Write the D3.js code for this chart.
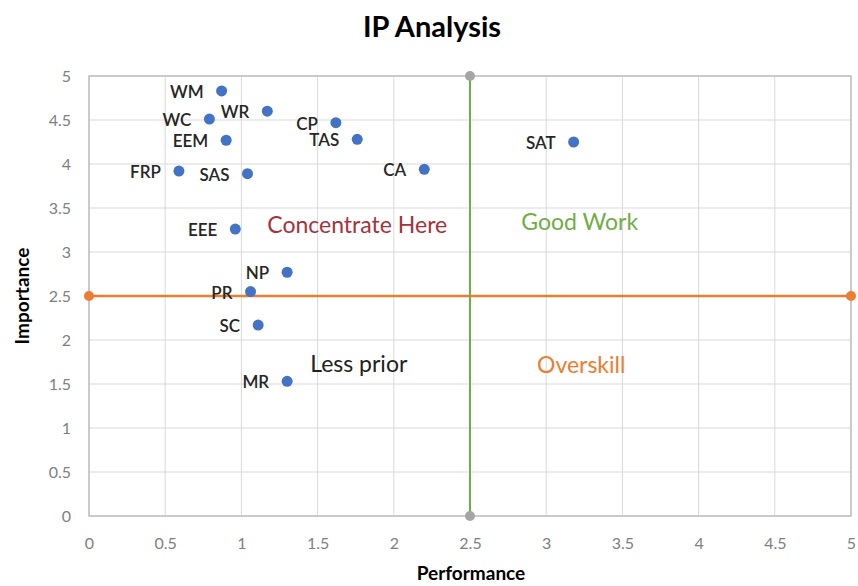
<!DOCTYPE html>
<html>
<head>
<meta charset="utf-8">
<script src="https://cdn.jsdelivr.net/npm/d3@7"></script>
<style>
  body { margin: 0; background: #fff; }
  text { font-family: Lato, "Open Sans", sans-serif; }
</style>
</head>
<body>
<div id="chart"></div>
<script>
// IP analysis data (performance vs importance)
const names = ["WM", "WR", "WC", "CP", "TAS", "EEM", "SAT", "CA", "FRP", "SAS", "EEE", "NP", "PR", "SC", "MR"];
const performance = [0.87, 1.17, 0.79, 1.62, 1.76, 0.90, 3.18, 2.20, 0.59, 1.04, 0.96, 1.30, 1.06, 1.11, 1.30];
const importance = [4.83, 4.60, 4.51, 4.47, 4.28, 4.27, 4.25, 3.94, 3.92, 3.89, 3.26, 2.77, 2.55, 2.17, 1.53];

const xTicks = [0, 0.5, 1, 1.5, 2, 2.5, 3, 3.5, 4, 4.5, 5];
const yTicks = [0, 0.5, 1, 1.5, 2, 2.5, 3, 3.5, 4, 4.5, 5];

const quadrants = [
  {label: "Concentrate Here", x: 1.76, y: 3.22, color: "#a8323c"},
  {label: "Good Work", x: 3.22, y: 3.25, color: "#70ad47"},
  {label: "Less prior", x: 1.77, y: 1.64, color: "#222"},
  {label: "Overskill", x: 3.23, y: 1.63, color: "#ed7d31"}
];

const width = 858, height = 586;
const margin = {top: 76, right: 7, bottom: 70, left: 89};

const svg = d3.select("#chart").append("svg")
    .attr("width", width)
    .attr("height", height);

const x = d3.scaleLinear().domain([0, 5]).range([margin.left, width - margin.right]);
const y = d3.scaleLinear().domain([0, 5]).range([height - margin.bottom, margin.top]);

// gridlines
svg.append("g")
    .selectAll("line")
    .data(xTicks)
    .enter().append("line")
    .attr("x1", d => x(d)).attr("x2", d => x(d))
    .attr("y1", y(0)).attr("y2", y(5))
    .attr("stroke", "#d9d9d9").attr("stroke-width", 1);
svg.append("g")
    .selectAll("line")
    .data(yTicks)
    .enter().append("line")
    .attr("x1", x(0)).attr("x2", x(5))
    .attr("y1", d => y(d)).attr("y2", d => y(d))
    .attr("stroke", "#d9d9d9").attr("stroke-width", 1);

// plot border
svg.append("rect")
    .attr("x", x(0)).attr("y", y(5))
    .attr("width", x(5) - x(0)).attr("height", y(0) - y(5))
    .attr("fill", "none").attr("stroke", "#bfbfbf").attr("stroke-width", 1.5);

// axes (labels only)
const xAxis = svg.append("g")
    .attr("transform", `translate(0,${y(0)})`)
    .call(d3.axisBottom(x).tickValues(xTicks).tickSize(0).tickPadding(22).tickFormat(d3.format("")));
xAxis.select(".domain").remove();
xAxis.selectAll("text").attr("fill", "#808080").style("font-size", "16px").style("font-family", "Lato, sans-serif");

const yAxis = svg.append("g")
    .attr("transform", `translate(${x(0)},0)`)
    .call(d3.axisLeft(y).tickValues(yTicks).tickSize(0).tickPadding(18).tickFormat(d3.format("")));
yAxis.select(".domain").remove();
yAxis.selectAll("text").attr("fill", "#808080").style("font-size", "16px").style("font-family", "Lato, sans-serif");

// threshold lines
svg.append("line")
    .attr("x1", x(0)).attr("x2", x(5))
    .attr("y1", y(2.5)).attr("y2", y(2.5))
    .attr("stroke", "#ed7d31").attr("stroke-width", 2.5);
svg.append("g").selectAll("circle")
    .data([0, 5]).enter().append("circle")
    .attr("cx", d => x(d)).attr("cy", y(2.5)).attr("r", 5)
    .attr("fill", "#ed7d31");

svg.append("line")
    .attr("x1", x(2.5)).attr("x2", x(2.5))
    .attr("y1", y(0)).attr("y2", y(5))
    .attr("stroke", "#70ad47").attr("stroke-width", 2);
svg.append("g").selectAll("circle")
    .data([0, 5]).enter().append("circle")
    .attr("cx", x(2.5)).attr("cy", d => y(d)).attr("r", 5)
    .attr("fill", "#a5a5a5");

// points
svg.append("g").selectAll("circle")
    .data(names).enter().append("circle")
    .attr("cx", (d, i) => x(performance[i]))
    .attr("cy", (d, i) => y(importance[i]))
    .attr("r", 5.5)
    .attr("fill", "#4472c4");

svg.append("g").selectAll("text")
    .data(names).enter().append("text")
    .attr("x", (d, i) => x(performance[i]) - 18)
    .attr("y", (d, i) => y(importance[i]) + 7)
    .attr("text-anchor", "end")
    .attr("fill", "#262626")
    .style("font-size", "17px")
    .style("font-weight", "600")
    .text(d => d);

// quadrant labels
svg.append("g").selectAll("text")
    .data(quadrants).enter().append("text")
    .attr("x", d => x(d.x))
    .attr("y", d => y(d.y))
    .attr("text-anchor", "middle")
    .attr("fill", d => d.color)
    .style("font-size", "23px")
    .text(d => d.label);

// title and axis titles
svg.append("text")
    .attr("x", 432).attr("y", 37)
    .attr("text-anchor", "middle")
    .style("font-size", "29px").style("font-weight", "bold")
    .text("IP Analysis");

svg.append("text")
    .attr("x", 471).attr("y", 580)
    .attr("text-anchor", "middle")
    .style("font-size", "19px").style("font-weight", "bold")
    .text("Performance");

svg.append("text")
    .attr("transform", `translate(29,${y(2.5)}) rotate(-90)`)
    .attr("text-anchor", "middle")
    .style("font-size", "19px").style("font-weight", "bold")
    .text("Importance");
</script>
</body>
</html>
